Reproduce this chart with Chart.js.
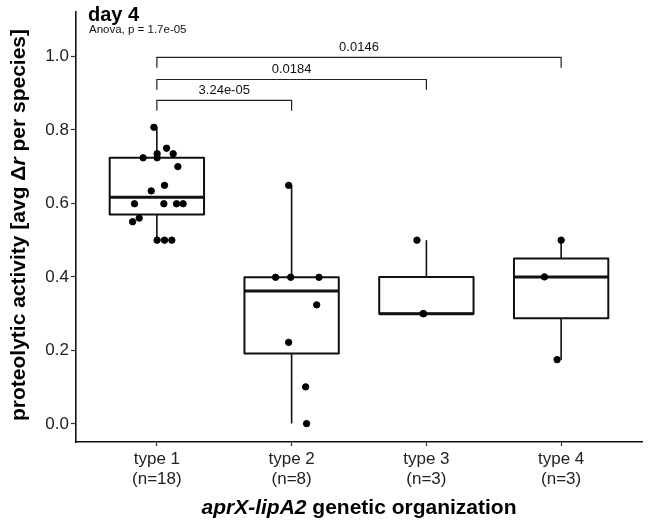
<!DOCTYPE html>
<html>
<head>
<meta charset="utf-8">
<script src="https://cdn.jsdelivr.net/npm/chart.js@4.4.1/dist/chart.umd.min.js"></script>
<style>
  html, body { margin: 0; padding: 0; background: #fff; }
  #wrap { width: 649px; height: 528px; }
</style>
</head>
<body>
<div id="wrap"><canvas id="grafico"></canvas></div>
<script>
// dados
const categorias = ['type 1', 'type 2', 'type 3', 'type 4'];
const rotulosN = ['(n=18)', '(n=8)', '(n=3)', '(n=3)'];

const valoresType1 = [0.807, 0.750, 0.735, 0.735, 0.724, 0.724, 0.700, 0.649, 0.634, 0.599, 0.599, 0.599, 0.599, 0.560, 0.550, 0.500, 0.500, 0.500];
const jitterType1 = [-0.022, 0.072, 0.002, 0.121, -0.102, 0.002, 0.156, 0.057, -0.042, -0.166, 0.052, 0.146, 0.195, -0.131, -0.180, 0.002, 0.057, 0.111];

const valoresType2 = [0.649, 0.399, 0.399, 0.399, 0.324, 0.222, 0.101, 0.001];
const jitterType2 = [-0.022, -0.119, -0.007, 0.203, 0.186, -0.022, 0.104, 0.111];

const valoresType3 = [0.500, 0.300, 0.300];
const jitterType3 = [-0.070, -0.025, -0.020];

const valoresType4 = [0.500, 0.400, 0.175];
const jitterType4 = [0.000, -0.124, -0.030];

const yTicks = [0.0, 0.2, 0.4, 0.6, 0.8, 1.0];

const comparacoes = [[1, 2], [1, 3], [1, 4]];
const alturasComparacao = [0.880, 0.937, 0.997];
const pValores = ['3.24e-05', '0.0184', '0.0146'];

const tituloPainel = 'day 4';
const textoAnova = 'Anova, p = 1.7e-05';

const grupos = [valoresType1, valoresType2, valoresType3, valoresType4];
const jitters = [jitterType1, jitterType2, jitterType3, jitterType4];

const fonte = "'Liberation Sans', Arial, sans-serif";

// quantil tipo 7 (igual ao R)
function quantil(lista, p) {
    let ord = [...lista].sort((a, b) => a - b);
    let h = (ord.length - 1) * p;
    let lo = Math.floor(h);
    let hi = Math.ceil(h);
    return ord[lo] + (h - lo) * (ord[hi] - ord[lo]);
}

let pontos = [];
grupos.forEach((vals, i) => {
    vals.forEach((v, j) => {
        pontos.push({ x: i + 1 + jitters[i][j], y: v });
    });
});

/*------------------------ caixas (boxplot) ---------------------------*/
const pluginCaixas = {
    id: 'caixas',
    beforeDatasetsDraw(chart) {
        const ctx = chart.ctx;
        const xs = chart.scales.x;
        const ys = chart.scales.y;
        ctx.save();
        ctx.strokeStyle = '#111';
        grupos.forEach((vals, i) => {
            let q1 = quantil(vals, 0.25);
            let med = quantil(vals, 0.5);
            let q3 = quantil(vals, 0.75);
            let iqr = q3 - q1;
            let dentro = vals.filter(v => v >= q1 - 1.5 * iqr && v <= q3 + 1.5 * iqr);
            let bigodeMax = Math.max(...dentro);
            let bigodeMin = Math.min(...dentro);

            let cx = xs.getPixelForValue(i + 1);
            let esq = xs.getPixelForValue(i + 1 - 0.35);
            let dir = xs.getPixelForValue(i + 1 + 0.35);

            ctx.lineWidth = 1.6;
            ctx.beginPath();
            ctx.moveTo(cx, ys.getPixelForValue(q3));
            ctx.lineTo(cx, ys.getPixelForValue(bigodeMax));
            ctx.moveTo(cx, ys.getPixelForValue(q1));
            ctx.lineTo(cx, ys.getPixelForValue(bigodeMin));
            ctx.stroke();

            ctx.lineWidth = 2;
            ctx.lineJoin = 'round';
            let topo = ys.getPixelForValue(q3);
            let base = ys.getPixelForValue(q1);
            ctx.strokeRect(esq, topo, dir - esq, base - topo);

            ctx.lineWidth = 3;
            ctx.beginPath();
            ctx.moveTo(esq, ys.getPixelForValue(med));
            ctx.lineTo(dir, ys.getPixelForValue(med));
            ctx.stroke();
        });
        ctx.restore();
    },
    afterDraw(chart) {
        const ctx = chart.ctx;
        const xs = chart.scales.x;
        const ys = chart.scales.y;
        const area = chart.chartArea;
        ctx.save();

        // colchetes de comparacao
        ctx.strokeStyle = '#222';
        ctx.lineWidth = 1.2;
        ctx.fillStyle = '#111';
        ctx.font = '13px ' + fonte;
        ctx.textAlign = 'center';
        ctx.textBaseline = 'alphabetic';
        comparacoes.forEach((par, k) => {
            let x1 = xs.getPixelForValue(par[0]);
            let x2 = xs.getPixelForValue(par[1]);
            let yTopo = ys.getPixelForValue(alturasComparacao[k]);
            let yPe = ys.getPixelForValue(alturasComparacao[k] - 0.028);
            ctx.beginPath();
            ctx.moveTo(x1, yPe);
            ctx.lineTo(x1, yTopo);
            ctx.lineTo(x2, yTopo);
            ctx.lineTo(x2, yPe);
            ctx.stroke();
            ctx.fillText(pValores[k], (x1 + x2) / 2, yTopo - 6);
        });

        // titulo do painel
        ctx.textAlign = 'left';
        ctx.fillStyle = '#000';
        ctx.font = 'bold 20px ' + fonte;
        ctx.fillText(tituloPainel, area.left + 12, 21);
        ctx.font = '11.5px ' + fonte;
        ctx.fillStyle = '#111';
        ctx.fillText(textoAnova, area.left + 13, 33);

        // titulo do eixo x (parte em italico)
        let parteItalico = 'aprX-lipA2';
        let parteNormal = ' genetic organization';
        ctx.font = 'italic bold 21px ' + fonte;
        let w1 = ctx.measureText(parteItalico).width;
        ctx.font = 'bold 21px ' + fonte;
        let w2 = ctx.measureText(parteNormal).width;
        let inicio = (area.left + area.right) / 2 - (w1 + w2) / 2;
        ctx.fillStyle = '#000';
        ctx.font = 'italic bold 21px ' + fonte;
        ctx.fillText(parteItalico, inicio, 514);
        ctx.font = 'bold 21px ' + fonte;
        ctx.fillText(parteNormal, inicio + w1, 514);

        // titulo do eixo y (r em italico)
        let partesY = [
            { t: 'proteolytic activity [avg \u0394', it: false },
            { t: 'r', it: true },
            { t: ' per species]', it: false }
        ];
        let larguras = partesY.map(p => {
            ctx.font = (p.it ? 'italic ' : '') + 'bold 21px ' + fonte;
            return ctx.measureText(p.t).width;
        });
        let total = larguras.reduce((a, b) => a + b, 0);
        ctx.translate(19, 225);
        ctx.rotate(-Math.PI / 2);
        ctx.textBaseline = 'middle';
        let pos = -total / 2;
        partesY.forEach((p, k) => {
            ctx.font = (p.it ? 'italic ' : '') + 'bold 21px ' + fonte;
            ctx.fillText(p.t, pos, 0);
            pos += larguras[k];
        });

        ctx.restore();
    }
};

/*------------------------ grafico ---------------------------*/
const ctxGrafico = document.getElementById('grafico');
new Chart(ctxGrafico, {
    type: 'scatter',
    data: {
        datasets: [{
            label: 'proteolytic activity',
            data: pontos,
            backgroundColor: '#000',
            borderColor: '#000',
            pointRadius: 3.2,
            pointHoverRadius: 3.2
        }]
    },
    options: {
        responsive: true,
        maintainAspectRatio: false,
        animation: false,
        layout: { padding: { top: 12, right: 7, left: 0, bottom: 0 } },
        plugins: {
            legend: { display: false },
            tooltip: { enabled: false }
        },
        scales: {
            x: {
                type: 'linear',
                min: 0.4,
                max: 4.6,
                afterFit: scale => { scale.height = 86; },
                afterBuildTicks: scale => {
                    scale.ticks = categorias.map((c, i) => ({ value: i + 1 }));
                },
                ticks: {
                    autoSkip: false,
                    maxRotation: 0,
                    padding: 4,
                    color: '#222',
                    font: { family: fonte, size: 17, lineHeight: 1.15 },
                    callback: (v) => [categorias[v - 1], rotulosN[v - 1]]
                },
                grid: { display: true, drawOnChartArea: false, tickLength: 4, tickColor: '#333', tickWidth: 1.2 },
                border: { display: true, color: '#111', width: 1.6 }
            },
            y: {
                min: -0.049,
                max: 1.12,
                afterFit: scale => { scale.width = 76; },
                afterBuildTicks: scale => {
                    scale.ticks = yTicks.map(v => ({ value: v }));
                },
                ticks: {
                    padding: 2,
                    color: '#222',
                    font: { family: fonte, size: 17 },
                    callback: (v) => v.toFixed(1)
                },
                grid: { display: true, drawOnChartArea: false, tickLength: 5, tickColor: '#333', tickWidth: 1.2 },
                border: { display: true, color: '#111', width: 1.6 }
            }
        }
    },
    plugins: [pluginCaixas]
});
</script>
</body>
</html>
